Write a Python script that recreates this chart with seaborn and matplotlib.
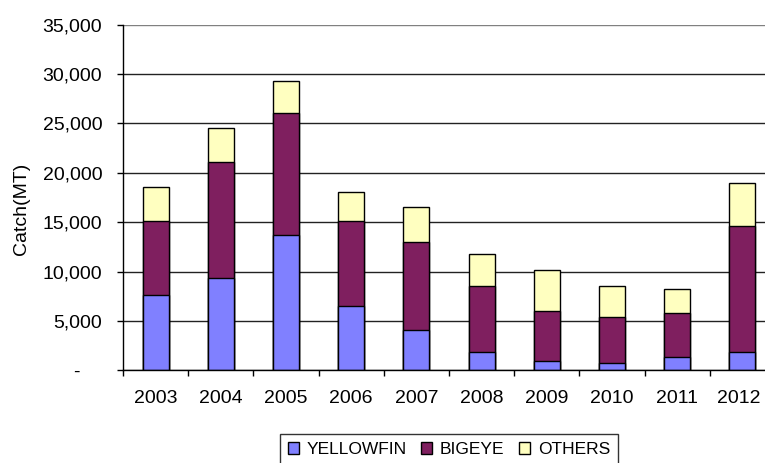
import matplotlib
matplotlib.use("Agg")
import matplotlib.pyplot as plt
import matplotlib.transforms as mtransforms
from matplotlib.patches import Patch
from matplotlib.ticker import FuncFormatter, FixedLocator
import numpy as np
import pandas as pd
import seaborn as sns

years = ["2003", "2004", "2005", "2006", "2007", "2008", "2009", "2010", "2011", "2012"]
yellowfin = [7600, 9400, 13700, 6500, 4100, 1900, 950, 800, 1400, 1900]
bigeye = [7530, 11700, 12380, 8600, 8880, 6680, 5070, 4620, 4450, 12730]
others = [3470, 3400, 3240, 2970, 3540, 3180, 4150, 3170, 2430, 4320]

series_names = ["YELLOWFIN", "BIGEYE", "OTHERS"]
series_colors = ["#8080FF", "#7F1F5F", "#FFFFC0"]

sns.set_style("white")
plt.rcParams["font.family"] = ["Liberation Sans", "DejaVu Sans"]
plt.rcParams["font.size"] = 14
plt.rcParams["text.color"] = "black"
plt.rcParams["axes.labelcolor"] = "black"
plt.rcParams["xtick.color"] = "black"
plt.rcParams["ytick.color"] = "black"

df = pd.DataFrame({"year": years, "YELLOWFIN": yellowfin,
                   "BIGEYE": bigeye, "OTHERS": others})
df["yf_top"] = df["YELLOWFIN"]
df["be_top"] = df["YELLOWFIN"] + df["BIGEYE"]
df["ot_top"] = df["be_top"] + df["OTHERS"]

fig = plt.figure(figsize=(7.65, 4.63), dpi=100)
ax = fig.add_axes([0.1608, 0.1998, 0.8523, 0.7469])

# Stacked bars: draw the cumulative totals from the top segment down
for col, color in zip(["ot_top", "be_top", "yf_top"], series_colors[::-1]):
    sns.barplot(data=df, x="year", y=col, color=color, width=0.4,
                edgecolor="black", linewidth=1.0, saturation=1, ax=ax,
                zorder=3)

ax.set_xlim(-0.5, len(years) - 0.5)
ax.set_ylim(0, 35000)
ax.set_yticks(np.arange(0, 35001, 5000))
ax.yaxis.set_major_formatter(FuncFormatter(
    lambda v, _: "-    " if v == 0 else f"{int(v):,}"))

ax.set_xlabel("")
ax.set_ylabel("Catch(MT)", fontsize=14)
ax.yaxis.set_label_coords(-0.143, 0.468)

# Category boundary tick marks below the axis, labels centred without ticks
ax.xaxis.set_minor_locator(FixedLocator(np.arange(-0.5, len(years), 1.0)))
ax.tick_params(axis="x", which="major", length=0, pad=14, labelsize=14)
ax.tick_params(axis="x", which="minor", length=4.5, width=1, color="black",
               direction="out", bottom=True)
ax.tick_params(axis="y", which="major", length=4.5, width=1, color="black",
               direction="out", left=True, pad=10.5, labelsize=14)

# keep the last year label inside the figure edge
last = ax.get_xticklabels()[-1]
last.set_transform(last.get_transform() +
                   mtransforms.ScaledTranslation(-4 / 100, 0, fig.dpi_scale_trans))

ax.yaxis.grid(True, color="#222222", linewidth=1.0, zorder=0)
ax.set_axisbelow(True)
gl = ax.get_ygridlines()
gl[-1].set_color("#808080")

for s in ["top", "right"]:
    ax.spines[s].set_visible(False)
for s in ["left", "bottom"]:
    ax.spines[s].set_color("black")
    ax.spines[s].set_linewidth(1.0)
    ax.spines[s].set_zorder(4)

handles = [Patch(facecolor=c, edgecolor="black", linewidth=1.0, label=n)
           for n, c in zip(series_names, series_colors)]
leg = ax.legend(handles=handles, loc="upper center",
                bbox_to_anchor=(0.5, -0.1845), ncol=3, frameon=True,
                fancybox=False, edgecolor="black", fontsize=12.5,
                handlelength=0.62, handleheight=0.62, handletextpad=0.46,
                columnspacing=0.83, borderpad=0.45, borderaxespad=0)
leg.get_frame().set_linewidth(1.0)

fig.savefig("out.png", dpi=100)
